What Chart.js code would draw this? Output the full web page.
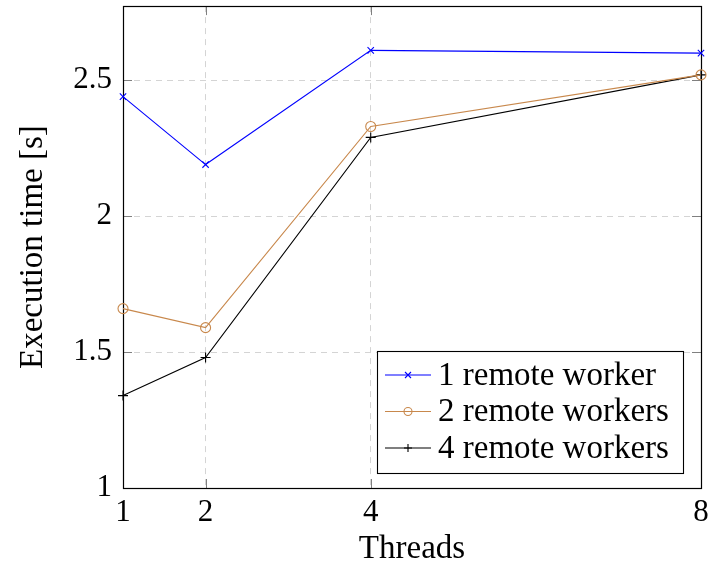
<!DOCTYPE html>
<html><head><meta charset="utf-8">
<script src="https://cdn.jsdelivr.net/npm/chart.js@4.4.0/dist/chart.umd.min.js"></script>
<style>html,body{margin:0;padding:0;background:#fff}</style>
</head><body><canvas id="c" width="709" height="566"></canvas>
<script>
const threads = [1, 2, 4, 8];
const xTickLabels = ['1', '2', '4', '8'];
const yTickValues = [1, 1.5, 2, 2.5];
const yTickLabels = ['1', '1.5', '2', '2.5'];
const seriesNames = ['1 remote worker', '2 remote workers', '4 remote workers'];
const oneWorker = [2.44, 2.19, 2.61, 2.60];
const twoWorkers = [1.66, 1.59, 2.33, 2.52];
const fourWorkers = [1.34, 1.48, 2.29, 2.52];
const xTitle = 'Threads';
const yTitle = 'Execution time [s]';

const FONT = '"Liberation Serif", "DejaVu Serif", serif';
const colors = ['#0000ff', '#c8884c', '#000000'];
const styles = ['crossRot', 'circle', 'cross'];
const radii = [4.5, 5, 5];
const seriesData = [oneWorker, twoWorkers, fourWorkers];

const datasets = seriesNames.map((n, i) => ({
  label: n,
  data: threads.map((t, j) => ({x: t, y: seriesData[i][j]})),
  borderColor: colors[i],
  backgroundColor: 'rgba(0,0,0,0)',
  pointBorderColor: colors[i],
  pointBackgroundColor: 'rgba(0,0,0,0)',
  pointStyle: styles[i],
  pointRadius: radii[i],
  pointBorderWidth: 1.1,
  borderWidth: 1.1,
  tension: 0,
  clip: false
}));

const frame = {
  id: 'frame',
  beforeDatasetsDraw(chart) {
    const {ctx, chartArea: a, scales} = chart;
    ctx.save();
    ctx.strokeStyle = '#808080';
    ctx.lineWidth = 1;
    const L = 9;
    threads.forEach(v => {
      const x = Math.round(scales.x.getPixelForValue(v)) + 0.5;
      ctx.beginPath();
      ctx.moveTo(x, a.bottom); ctx.lineTo(x, a.bottom - L);
      ctx.moveTo(x, a.top); ctx.lineTo(x, a.top + L);
      ctx.stroke();
    });
    yTickValues.forEach(v => {
      const y = Math.round(scales.y.getPixelForValue(v)) + 0.5;
      ctx.beginPath();
      ctx.moveTo(a.left, y); ctx.lineTo(a.left + L, y);
      ctx.moveTo(a.right, y); ctx.lineTo(a.right - L, y);
      ctx.stroke();
    });
    ctx.strokeStyle = '#000';
    ctx.lineWidth = 1.2;
    ctx.strokeRect(Math.round(a.left) + 0.5, Math.round(a.top) + 0.5,
      Math.round(a.right - a.left), Math.round(a.bottom - a.top));
    ctx.restore();
  }
};

function drawMarker(ctx, style, x, y, r) {
  ctx.beginPath();
  if (style === 'circle') {
    ctx.arc(x, y, r, 0, Math.PI * 2);
  } else if (style === 'cross') {
    ctx.moveTo(x - r, y); ctx.lineTo(x + r, y);
    ctx.moveTo(x, y - r); ctx.lineTo(x, y + r);
  } else {
    const d = r * 0.75;
    ctx.moveTo(x - d, y - d); ctx.lineTo(x + d, y + d);
    ctx.moveTo(x - d, y + d); ctx.lineTo(x + d, y - d);
  }
  ctx.stroke();
}

const legendBox = {
  id: 'legendBox',
  afterDatasetsDraw(chart) {
    const {ctx} = chart;
    const bx = 377.5, by = 351.5, bw = 306, bh = 122;
    ctx.save();
    ctx.fillStyle = '#fff';
    ctx.fillRect(bx, by, bw, bh);
    ctx.strokeStyle = '#000';
    ctx.lineWidth = 1.1;
    ctx.strokeRect(bx, by, bw, bh);
    ctx.font = '33px ' + FONT;
    ctx.textBaseline = 'middle';
    ctx.textAlign = 'left';
    seriesNames.forEach((n, i) => {
      const y = 375 + i * 36.5;
      ctx.strokeStyle = colors[i];
      ctx.lineWidth = 1.1;
      ctx.beginPath();
      ctx.moveTo(385, y); ctx.lineTo(431, y);
      ctx.stroke();
      drawMarker(ctx, styles[i], 408, y, 4);
      ctx.fillStyle = '#000';
      ctx.fillText(n, 438, y + 1);
    });
    ctx.restore();
  }
};

new Chart(document.getElementById('c'), {
  type: 'line',
  data: {datasets},
  plugins: [frame, legendBox],
  options: {
    responsive: false,
    devicePixelRatio: 1,
    animation: false,
    layout: {padding: {left: 0, right: 8, top: 6, bottom: 0}},
    plugins: {legend: {display: false}, tooltip: {enabled: false}},
    scales: {
      x: {
        type: 'linear', min: 1, max: 8,
        afterBuildTicks: s => { s.ticks = threads.map(v => ({value: v})); },
        afterFit: s => { s.height = 78; s.paddingLeft = 0; s.paddingRight = 0; },
        ticks: {
          callback: v => xTickLabels[threads.indexOf(v)],
          font: {family: FONT, size: 31}, color: '#000', padding: 6, maxRotation: 0
        },
        grid: {color: '#d4d4d4', lineWidth: 1, drawTicks: false},
        border: {display: false, dash: [6, 5]},
        title: {display: true, text: xTitle, font: {family: FONT, size: 33, lineHeight: 1}, color: '#000', padding: {top: 0, bottom: 0}}
      },
      y: {
        type: 'linear', min: 1, max: 2.773,
        afterBuildTicks: s => { s.ticks = yTickValues.map(v => ({value: v})); },
        afterFit: s => { s.width = 123; s.paddingTop = 0; s.paddingBottom = 0; },
        ticks: {
          callback: v => yTickLabels[yTickValues.indexOf(v)],
          font: {family: FONT, size: 31}, color: '#000', padding: 11
        },
        grid: {color: '#d4d4d4', lineWidth: 1, drawTicks: false},
        border: {display: false, dash: [6, 5]},
        title: {display: true, text: yTitle, font: {family: FONT, size: 33}, color: '#000', padding: {top: 14, bottom: 0}}
      }
    }
  }
});
</script>
</body></html>
